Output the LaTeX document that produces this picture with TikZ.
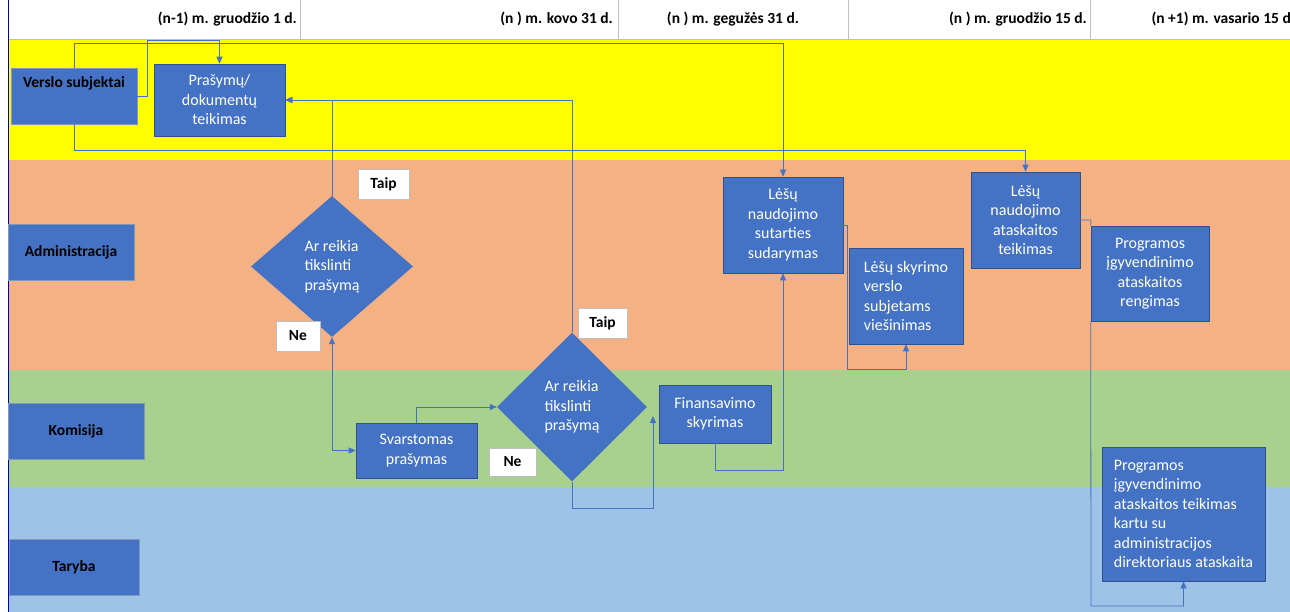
\documentclass[tikz,border=0pt]{standalone}
\usepackage{fontspec}
\setmainfont{Carlito}
\usetikzlibrary{shapes.geometric,arrows.meta}
\definecolor{boxblue}{HTML}{4472C4}
\definecolor{boxedge}{HTML}{2F528F}
\definecolor{laneyellow}{HTML}{FFFF00}
\definecolor{lanesalmon}{HTML}{F4B183}
\definecolor{lanegreen}{HTML}{A9D18E}
\definecolor{laneblue}{HTML}{9DC3E6}
\definecolor{linecol}{HTML}{4472C4}
\definecolor{sepgrey}{HTML}{BFBFBF}
\tikzset{
  boxnode/.style={draw=boxedge, line width=0.6pt, fill=boxblue, text=white, inner sep=0pt, align=center,
    font=\fontsize{16}{19.5}\selectfont},
  lanebox/.style={draw=boxedge!60, line width=0.6pt, fill=boxblue, inner sep=0pt, text=black,
    font=\bfseries\fontsize{15.5}{17}\selectfont},
  decision/.style={diamond, fill=boxblue, draw=none, text=white, inner sep=0pt, align=left,
    font=\fontsize{16}{19.5}\selectfont},
  answer/.style={draw=sepgrey, line width=0.5pt, fill=white, text=black, inner sep=0pt,
    font=\bfseries\fontsize{15.5}{17}\selectfont},
  headtext/.style={text=black, inner sep=0pt, font=\bfseries\fontsize{15.5}{17}\selectfont},
  conn/.style={draw=linecol, line width=0.8pt},
  arr/.style={conn, -{Triangle[length=7pt,width=6pt]}},
  dblarr/.style={conn, {Triangle[length=7pt,width=6pt]}-{Triangle[length=7pt,width=6pt]}}
}
\begin{document}
\begin{tikzpicture}[x=1pt,y=-1pt]
\useasboundingbox (0,0) rectangle (1290,612);
\fill[white] (0,0) rectangle (1290,612);
% lanes
\fill[laneyellow] (9,40) rectangle (1290,160);
\fill[lanesalmon] (9,160) rectangle (1290,370);
\fill[lanegreen] (9,370) rectangle (1290,487);
\fill[laneblue] (9,487) rectangle (1290,612);
% header separators
\foreach \xx in {300,618,848,1090} \draw[sepgrey, line width=0.8pt] (\xx,0) -- (\xx,39);
\draw[sepgrey, line width=0.8pt] (9,39) -- (1290,39);
\draw[blue!75!black, line width=0.8pt] (8,0) -- (8,612);
% header texts
\node[headtext, anchor=east] (h1) at (297,19) {(n-1) m. gruodžio 1 d.};
\node[headtext, anchor=east] (h2) at (613,19) {(n ) m. kovo 31 d.};
\node[headtext] (h3) at (733,19) {(n ) m. gegužės 31 d.};
\node[headtext, anchor=east] (h4) at (1087,19) {(n ) m. gruodžio 15 d.};
\node[headtext, anchor=east] (h5) at (1291,19) {(n +1) m. vasario 15 d};
% lane labels
\node[lanebox, minimum width=126pt, minimum height=56pt] (vs) at (74,96) {};
\node[text=black, inner sep=0pt, font=\bfseries\fontsize{15.5}{17}\selectfont] (vst) at (74,83) {Verslo subjektai};
\node[lanebox, minimum width=126pt, minimum height=56pt] (ad) at (71,252) {Administracija};
\node[lanebox, minimum width=136pt, minimum height=56pt] (ko) at (76,431) {Komisija};
\node[lanebox, minimum width=130pt, minimum height=56pt] (ta) at (74,567) {Taryba};
% process nodes
\node[boxnode, minimum width=131pt, minimum height=72pt] (pr) at (219.5,100) {Prašymų/\\dokumentų\\teikimas};
\node[decision, minimum width=162pt, minimum height=141pt] (d1) at (332,266.5) {Ar reikia\\tikslinti\\prašymą};
\node[decision, minimum width=150pt, minimum height=149pt] (d2) at (572,407) {Ar reikia\\tikslinti\\prašymą};
\node[answer, minimum width=51pt, minimum height=30pt] (t1) at (383.5,184) {Taip};
\node[answer, minimum width=44pt, minimum height=30pt] (n1) at (298,336) {Ne};
\node[answer, minimum width=49pt, minimum height=30pt] (t2) at (602.5,323) {Taip};
\node[answer, minimum width=47pt, minimum height=28pt] (n2) at (512.5,462) {Ne};
\node[boxnode, minimum width=121pt, minimum height=55pt] (sv) at (416.5,450.5) {Svarstomas\\prašymas};
\node[boxnode, minimum width=112pt, minimum height=58pt] (fin) at (715,414) {Finansavimo\\skyrimas};
\node[boxnode, minimum width=120pt, minimum height=96pt] (ls) at (783,225) {Lėšų\\naudojimo\\sutarties\\sudarymas};
\node[boxnode, align=left, minimum width=114pt, minimum height=96pt] (lv) at (906,296) {Lėšų skyrimo\\verslo\\subjetams\\viešinimas};
\node[boxnode, minimum width=109pt, minimum height=96pt] (la) at (1025.5,220) {Lėšų\\naudojimo\\ataskaitos\\teikimas};
\node[boxnode, minimum width=118pt, minimum height=95pt] (rg) at (1150,273.5) {Programos\\įgyvendinimo\\ataskaitos\\rengimas};
\node[boxnode, align=left, minimum width=163pt, minimum height=134pt] (pt) at (1183.5,514) {Programos\\įgyvendinimo\\ataskaitos teikimas\\kartu su\\administracijos\\direktoriaus ataskaita};
\coordinate (fa) at (653,416);
% connectors
\draw[arr] (vs.east) -- (147,96) -- (147,40) -| (pr.north);
\draw[arr] (vs.north) -- (74,43) -| (ls.north);
\draw[arr] (vs.south) -- (74,150) -| (la.north);
\draw[arr] (d1.north) |- (pr.east);
\draw[arr] (d2.north) |- (pr.east);
\draw[dblarr] (d1.south) |- (sv.west);
\draw[arr] (sv.north) |- (d2.west);
\draw[arr] (d2.south) -- (572,508) -| (fa);
\draw[arr] (fin.south) -- (715,470) -| (ls.south);
\draw[arr] (ls.east) -- (847,225) -- (847,369) -| (lv.south);
\draw[conn] (la.east) -- (1091,220) -- (rg.north west);
\draw[arr] (rg.south west) -- (1091,606) -| (pt.south);
\end{tikzpicture}
\end{document}
